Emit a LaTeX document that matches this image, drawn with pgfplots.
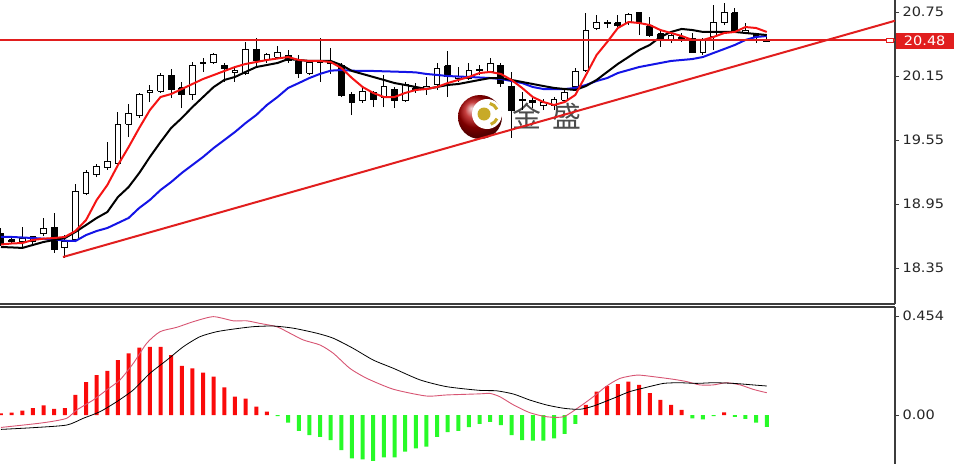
\documentclass[border=0pt]{standalone}
\usepackage{pgfplots}
\pgfplotsset{compat=1.18}
\usepackage{fontspec}
\setmainfont{DejaVu Sans}
\newfontfamily\axisfont[FakeStretch=1.12]{DejaVu Sans}
\newfontfamily\cjk{Noto Sans CJK SC}
\definecolor{maRed}{RGB}{245,20,20}
\definecolor{maBlue}{RGB}{20,20,230}
\definecolor{hLine}{RGB}{225,30,30}
\definecolor{macdPink}{RGB}{215,85,115}
\definecolor{histRed}{RGB}{250,10,10}
\definecolor{histGreen}{RGB}{40,250,40}
\definecolor{axisGray}{RGB}{60,60,60}
\definecolor{gold}{RGB}{200,170,40}
% candle: #1 body fill, #2 index, #3 open, #4 high, #5 low, #6 close
\newcommand{\candle}[6]{%
  \pgfmathsetmacro\xa{#2-0.27}\pgfmathsetmacro\xb{#2+0.27}%
  \edef\candletmp{%
    \noexpand\addplot[black, line width=1bp, forget plot] coordinates {(#2,#5) (#2,#4)};
    \noexpand\addplot[draw=black, fill=#1, line width=1bp, line join=miter, forget plot] coordinates {(\xa,#3) (\xb,#3) (\xb,#6) (\xa,#6) (\xa,#3)};
  }\candletmp}
\newcommand{\cw}[5]{\candle{white}{#1}{#2}{#3}{#4}{#5}}
\newcommand{\cb}[5]{\candle{black}{#1}{#2}{#3}{#4}{#5}}
\begin{document}
\begin{tikzpicture}
\useasboundingbox (0,0) rectangle (957bp,-464bp);
% watermark logo
\shade[ball color=red!70!black] (480bp,-117bp) circle (22bp);
\fill[white] (487bp,-114bp) circle (15bp);
\fill[gold] (484bp,-114bp) circle (6.5bp);
\draw[gold, line width=3bp] (487bp,-114bp) ++(25:11bp) arc (25:75:11bp);
\draw[gold, line width=3bp] (487bp,-114bp) ++(-25:11bp) arc (-25:-70:11bp);
\node[text=black!70, font=\cjk\fontsize{29}{29}\selectfont] at (527bp,-116bp) {金};
\node[text=black!70, font=\cjk\fontsize{29}{29}\selectfont] at (567bp,-116bp) {盛};
% main price panel
\begin{axis}[at={(0,0)}, anchor=north west, scale only axis, width=895bp, height=304bp,
  xmin=-0.094, xmax=84.06, ymin=18.0125, ymax=20.8625, enlargelimits=false,
  axis x line*=bottom, axis y line*=right,
  axis line style={axisGray, line width=1.3bp},
  xtick=\empty, ytick={18.35,18.95,19.55,20.15,20.75},
  yticklabels={18.35,18.95,19.55,20.15,20.75},
  yticklabel style={font=\axisfont\fontsize{13}{13}\selectfont, text=black!85},
  tick align=outside, major tick length=4bp, tick style={axisGray, line width=1bp}]
\cb{0}{18.678}{18.725}{18.556}{18.584}
\cb{1}{18.613}{18.641}{18.575}{18.594}
\cw{2}{18.603}{18.734}{18.547}{18.622}
\cw{3}{18.603}{18.650}{18.566}{18.641}
\cw{4}{18.669}{18.819}{18.650}{18.716}
\cb{5}{18.734}{18.866}{18.491}{18.528}
\cw{6}{18.538}{18.659}{18.444}{18.603}
\cw{7}{18.613}{19.138}{18.594}{19.063}
\cw{8}{19.053}{19.269}{19.034}{19.241}
\cw{9}{19.222}{19.325}{19.203}{19.297}
\cw{10}{19.288}{19.531}{19.269}{19.344}
\cw{11}{19.334}{19.813}{19.316}{19.700}
\cw{12}{19.700}{19.888}{19.578}{19.794}
\cw{13}{19.784}{19.991}{19.756}{19.981}
\cw{14}{19.993}{20.066}{19.906}{20.012}
\cw{15}{20.009}{20.178}{19.991}{20.159}
\cb{16}{20.159}{20.216}{19.944}{20.019}
\cb{17}{20.038}{20.094}{19.850}{19.981}
\cw{18}{19.972}{20.281}{19.925}{20.253}
\cw{19}{20.267}{20.319}{20.188}{20.281}
\cw{20}{20.272}{20.366}{20.263}{20.356}
\cb{21}{20.244}{20.272}{20.094}{20.216}
\cw{22}{20.183}{20.225}{20.094}{20.197}
\cw{23}{20.178}{20.469}{20.159}{20.403}
\cb{24}{20.394}{20.506}{20.234}{20.291}
\cw{25}{20.309}{20.366}{20.272}{20.347}
\cw{26}{20.328}{20.431}{20.309}{20.375}
\cb{27}{20.338}{20.394}{20.272}{20.291}
\cb{28}{20.291}{20.347}{20.131}{20.178}
\cw{29}{20.178}{20.300}{20.159}{20.281}
\cw{30}{20.272}{20.506}{20.094}{20.286}
\cb{31}{20.281}{20.413}{20.169}{20.267}
\cb{32}{20.244}{20.272}{19.953}{19.963}
\cb{33}{19.972}{20.000}{19.784}{19.906}
\cw{34}{19.916}{20.056}{19.897}{20.009}
\cb{35}{19.991}{20.009}{19.859}{19.934}
\cw{36}{19.944}{20.159}{19.859}{20.056}
\cb{37}{20.028}{20.047}{19.850}{19.925}
\cw{38}{19.916}{20.094}{19.906}{20.075}
\cb{39}{20.042}{20.084}{19.991}{20.028}
\cw{40}{20.033}{20.141}{19.972}{20.047}
\cw{41}{20.066}{20.272}{20.019}{20.225}
\cb{42}{20.244}{20.384}{19.953}{20.150}
\cw{43}{20.131}{20.234}{20.094}{20.145}
\cw{44}{20.131}{20.272}{20.113}{20.206}
\cw{45}{20.197}{20.253}{20.159}{20.211}
\cw{46}{20.188}{20.319}{20.178}{20.263}
\cb{47}{20.253}{20.272}{20.047}{20.084}
\cb{48}{20.056}{20.188}{19.569}{19.831}
\cw{49}{19.920}{20.000}{19.831}{19.934}
\cb{50}{19.925}{19.963}{19.850}{19.897}
\cw{51}{19.869}{19.934}{19.831}{19.906}
\cw{52}{19.869}{19.953}{19.831}{19.934}
\cw{53}{19.925}{20.019}{19.906}{19.991}
\cw{54}{20.047}{20.225}{20.038}{20.188}
\cw{55}{20.197}{20.741}{20.188}{20.572}
\cw{56}{20.600}{20.722}{20.581}{20.647}
\cw{57}{20.638}{20.675}{20.600}{20.652}
\cb{58}{20.647}{20.722}{20.609}{20.623}
\cw{59}{20.647}{20.741}{20.628}{20.731}
\cb{60}{20.741}{20.741}{20.534}{20.647}
\cb{61}{20.619}{20.703}{20.516}{20.534}
\cb{62}{20.544}{20.581}{20.422}{20.497}
\cw{63}{20.488}{20.563}{20.459}{20.534}
\cb{64}{20.516}{20.553}{20.469}{20.502}
\cb{65}{20.497}{20.553}{20.366}{20.375}
\cw{66}{20.375}{20.506}{20.347}{20.488}
\cw{67}{20.516}{20.816}{20.394}{20.647}
\cw{68}{20.647}{20.834}{20.628}{20.741}
\cb{69}{20.741}{20.788}{20.553}{20.572}
\cw{70}{20.558}{20.647}{20.553}{20.572}
\cb{71}{20.553}{20.553}{20.459}{20.516}
\cb{72}{20.492}{20.516}{20.469}{20.478}
% MA blue (slow)
\addplot[maBlue, line width=2bp] coordinates {
(0,18.641)(1,18.641)(2,18.636)(3,18.631)(4,18.625)(5,18.619)(6,18.606)(7,18.603)(8,18.659)(9,18.697)
(10,18.725)(11,18.772)(12,18.819)(13,18.913)(14,18.988)(15,19.081)(16,19.156)(17,19.241)(18,19.316)(19,19.391)
(20,19.475)(21,19.550)(22,19.625)(23,19.709)(24,19.784)(25,19.878)(26,19.953)(27,20.038)(28,20.084)(29,20.131)
(30,20.170)(31,20.200)(32,20.206)(33,20.200)(34,20.197)(35,20.197)(36,20.194)(37,20.191)(38,20.188)(39,20.184)
(40,20.169)(41,20.160)(42,20.150)(43,20.145)(44,20.141)(45,20.136)(46,20.131)(47,20.122)(48,20.103)(49,20.084)
(50,20.047)(51,20.028)(52,20.028)(53,20.028)(54,20.038)(55,20.066)(56,20.103)(57,20.131)(58,20.178)(59,20.206)
(60,20.234)(61,20.253)(62,20.272)(63,20.291)(64,20.300)(65,20.309)(66,20.328)(67,20.366)(68,20.403)(69,20.441)
(70,20.488)(71,20.516)(72,20.525)};
% MA black (medium)
\addplot[black, line width=2bp] coordinates {
(0,18.547)(1,18.543)(2,18.538)(3,18.566)(4,18.594)(5,18.613)(6,18.631)(7,18.688)(8,18.753)(9,18.819)
(10,18.875)(11,19.016)(12,19.109)(13,19.241)(14,19.391)(15,19.531)(16,19.663)(17,19.756)(18,19.859)(19,19.953)
(20,20.047)(21,20.113)(22,20.141)(23,20.188)(24,20.234)(25,20.253)(26,20.272)(27,20.309)(28,20.300)(29,20.291)
(30,20.291)(31,20.291)(32,20.253)(33,20.197)(34,20.169)(35,20.141)(36,20.113)(37,20.084)(38,20.066)(39,20.047)
(40,20.028)(41,20.047)(42,20.066)(43,20.075)(44,20.094)(45,20.113)(46,20.131)(47,20.131)(48,20.113)(49,20.094)
(50,20.075)(51,20.056)(52,20.038)(53,20.028)(54,20.019)(55,20.056)(56,20.113)(57,20.188)(58,20.263)(59,20.328)
(60,20.394)(61,20.441)(62,20.516)(63,20.563)(64,20.591)(65,20.581)(66,20.563)(67,20.563)(68,20.563)(69,20.563)
(70,20.553)(71,20.544)(72,20.534)};
% MA red (fast)
\addplot[maRed, line width=2bp] coordinates {
(0,18.570)(1,18.580)(2,18.584)(3,18.613)(4,18.625)(5,18.631)(6,18.641)(7,18.697)(8,18.800)(9,18.988)
(10,19.128)(11,19.316)(12,19.484)(13,19.663)(14,19.831)(15,19.953)(16,19.981)(17,20.028)(18,20.075)(19,20.122)
(20,20.159)(21,20.197)(22,20.234)(23,20.263)(24,20.281)(25,20.300)(26,20.314)(27,20.328)(28,20.300)(29,20.291)
(30,20.291)(31,20.281)(32,20.225)(33,20.131)(34,20.047)(35,19.991)(36,19.953)(37,19.953)(38,19.991)(39,20.019)
(40,20.028)(41,20.047)(42,20.084)(43,20.113)(44,20.141)(45,20.178)(46,20.188)(47,20.169)(48,20.113)(49,20.038)
(50,19.953)(51,19.906)(52,19.878)(53,19.906)(54,19.972)(55,20.159)(56,20.347)(57,20.469)(58,20.600)(59,20.656)
(60,20.647)(61,20.628)(62,20.581)(63,20.553)(64,20.525)(65,20.488)(66,20.488)(67,20.516)(68,20.553)(69,20.563)
(70,20.609)(71,20.600)(72,20.563)};
% horizontal level and trend line
\addplot[hLine, line width=2bp] coordinates {(-0.094,20.488) (84.06,20.488)};
\addplot[hLine, line width=2bp] coordinates {(5.83,18.453) (84.06,20.668)};
\end{axis}
% MACD panel
\begin{axis}[at={(0,-307bp)}, anchor=north west, scale only axis, width=895bp, height=157bp,
  xmin=-0.094, xmax=84.06, ymin=-0.2247, ymax=0.4953, enlargelimits=false,
  axis x line*=top, axis y line*=right,
  axis line style={axisGray, line width=1.3bp},
  xtick=\empty, ytick={0,0.454}, yticklabels={0.00,0.454},
  yticklabel style={font=\axisfont\fontsize{13}{13}\selectfont, text=black!85},
  tick align=outside, major tick length=4bp, tick style={axisGray, line width=1bp}]
\addplot[ybar, bar width=4bp, bar shift=0pt, fill=histRed, draw=none] coordinates {
(0,0.008)(1,0.011)(2,0.020)(3,0.031)(4,0.044)(5,0.028)(6,0.031)(7,0.092)(8,0.151)(9,0.183)
(10,0.202)(11,0.252)(12,0.283)(13,0.309)(14,0.313)(15,0.313)(16,0.275)(17,0.225)(18,0.214)(19,0.194)
(20,0.176)(21,0.127)(22,0.084)(23,0.075)(24,0.038)(25,0.015)
(55,0.046)(56,0.107)(57,0.133)(58,0.142)(59,0.153)(60,0.138)(61,0.100)(62,0.069)(63,0.046)(64,0.023)(68,0.012)};
\addplot[ybar, bar width=4bp, bar shift=0pt, fill=histGreen, draw=none] coordinates {
(26,-0.005)(27,-0.035)(28,-0.073)(29,-0.092)(30,-0.100)(31,-0.115)(32,-0.161)(33,-0.199)(34,-0.203)(35,-0.210)
(36,-0.194)(37,-0.194)(38,-0.168)(39,-0.153)(40,-0.145)(41,-0.100)(42,-0.079)(43,-0.073)(44,-0.056)(45,-0.041)
(46,-0.031)(47,-0.046)(48,-0.092)(49,-0.115)(50,-0.118)(51,-0.118)(52,-0.107)(53,-0.087)(54,-0.041)
(65,-0.015)(66,-0.020)(67,-0.005)(69,-0.008)(70,-0.018)(71,-0.035)(72,-0.054)};
\addplot[macdPink, line width=0.9bp, smooth, tension=0.4] coordinates {
(0,-0.057)(3.04,-0.041)(4.6,-0.031)(6.18,-0.015)(7.12,0.023)(8.68,0.069)(9.94,0.115)(11.19,0.161)(12.44,0.237)
(13.7,0.329)(14.95,0.382)(16.52,0.402)(18.08,0.428)(19.96,0.451)(21.84,0.432)(23.1,0.432)(24.35,0.420)(25.92,0.405)
(27.17,0.375)(28.43,0.344)(30,0.321)(31.25,0.283)(32.8,0.214)(34.4,0.168)(36.9,0.118)(40.0,0.087)(41.9,0.092)
(45.0,0.097)(45.98,0.099)(46.9,0.084)(48.2,0.046)(49.7,0.011)(51.3,-0.008)(52.9,-0.008)(54.4,0.038)(55.7,0.084)
(56.95,0.133)(58.2,0.168)(59.8,0.183)(61.3,0.176)(63.2,0.164)(64.5,0.153)(65.7,0.138)(66.98,0.138)(68.2,0.148)
(69.5,0.138)(70.7,0.118)(72.0,0.102)};
\addplot[black, line width=0.8bp, smooth, tension=0.4] coordinates {
(0,-0.066)(3.04,-0.058)(6.18,-0.046)(7.74,-0.015)(9.3,0.015)(10.88,0.061)(12.44,0.115)(14.0,0.191)(15.6,0.252)
(17.14,0.313)(18.7,0.359)(20.28,0.382)(21.84,0.394)(23.7,0.405)(25.6,0.408)(27.5,0.398)(29.7,0.375)(31.25,0.352)
(33.1,0.306)(35.0,0.252)(36.9,0.214)(39.4,0.161)(41.9,0.130)(45.0,0.113)(46.6,0.111)(48.2,0.096)(49.7,0.069)
(51.3,0.046)(52.9,0.031)(54.4,0.026)(55.7,0.041)(57.6,0.077)(59.1,0.107)(60.7,0.127)(62.3,0.145)(63.8,0.148)
(65.4,0.145)(67.0,0.148)(68.9,0.145)(70.7,0.138)(72.0,0.133)};
\end{axis}
% price tag for the level line
\draw[hLine, line width=0.8bp, fill=white] (886bp,-38.5bp) rectangle (893bp,-42bp);
\node[fill=hLine, text=white, font=\axisfont\fontsize{13}{13}\selectfont, inner sep=0pt, minimum width=58bp, minimum height=16bp, anchor=west] at (895.5bp,-41bp) {20.48};
\end{tikzpicture}
\end{document}
